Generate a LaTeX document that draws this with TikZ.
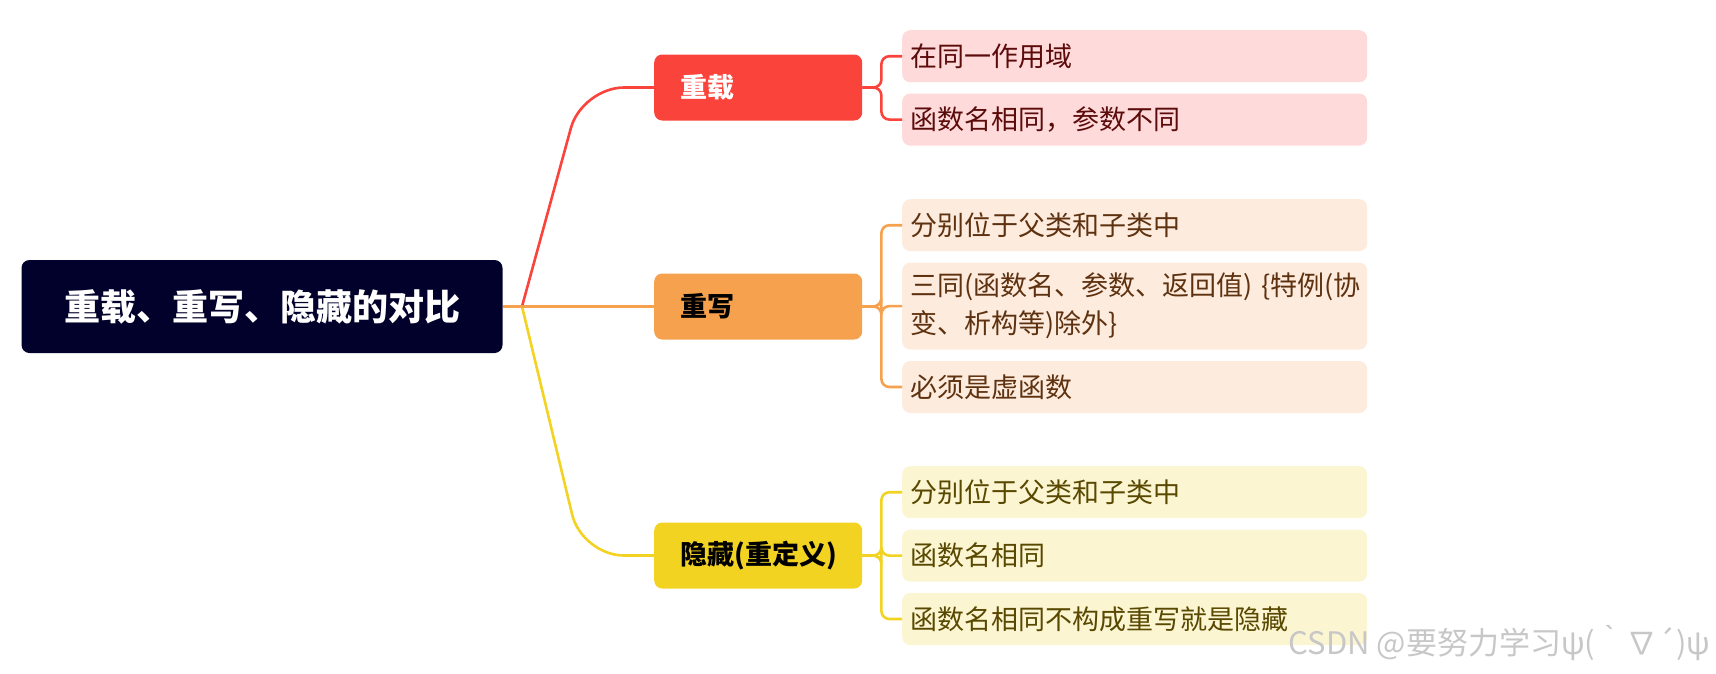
\documentclass[tikz,border=0pt]{standalone}
\usepackage{fontspec}
\setmainfont{Noto Sans CJK SC}
\usetikzlibrary{positioning}

\definecolor{rootbg}{HTML}{02012B}
\definecolor{redbr}{HTML}{FA433B}
\definecolor{orangebr}{HTML}{F6A14D}
\definecolor{yellowbr}{HTML}{F3D322}
\definecolor{redleaf}{HTML}{FFDADA}
\definecolor{orangeleaf}{HTML}{FDEBDD}
\definecolor{yellowleaf}{HTML}{FCF5D2}
\definecolor{redtxt}{HTML}{5C0B0B}
\definecolor{orangetxt}{HTML}{5E3210}
\definecolor{yellowtxt}{HTML}{584800}

\begin{document}
\begin{tikzpicture}[
  x=1pt,y=-1pt,
  node distance=11pt,
  root/.style={fill=rootbg,rounded corners=8pt,minimum width=481pt,minimum height=93pt,
    text=white,font=\fontsize{36}{42}\selectfont\bfseries},
  topic/.style={fill=#1br,rounded corners=8pt,minimum height=66pt,inner xsep=26pt,
    text width=156pt,align=left,font=\fontsize{27}{32}\selectfont\bfseries},
  leaf/.style={fill=#1leaf,text=#1txt,rounded corners=8pt,minimum height=52pt,inner xsep=8pt,
    text width=449pt,align=left,font=\fontsize{27}{38}\selectfont},
  link/.style={line width=2.6pt,rounded corners=42pt},
  brace/.style={line width=2.6pt,rounded corners=8pt}
]
  \useasboundingbox (0,0) rectangle (1716,673);

  \node[root] (root) at (262,306.5) {重载、重写、隐藏的对比};
  \coordinate (hub) at (522,306.5);

  % branches
  \node[topic=red,text=white,anchor=west] (ovl) at (654,87.5) {重载};
  \node[topic=orange,anchor=west] (ovr) at (654,306.5) {重写};
  \node[topic=yellow,anchor=west] (hid) at (654,555.5) {隐藏(重定义)};

  % leaves
  \node[leaf=red,anchor=north west] (ovl1) at (902,30) {在同一作用域};
  \node[leaf=red,below=of ovl1] (ovl2) {函数名相同，参数不同};

  \node[leaf=orange,anchor=north west] (ovr1) at (902,199) {分别位于父类和子类中};
  \node[leaf=orange,below=of ovr1,minimum height=87pt] (ovr2) {\mbox{三同(函数名、参数、返回值) \{特例(协}\\变、析构等)除外\}};
  \node[leaf=orange,below=of ovr2] (ovr3) {必须是虚函数};

  \node[leaf=yellow,anchor=north west] (hid1) at (902,466) {分别位于父类和子类中};
  \node[leaf=yellow,below=of hid1] (hid2) {函数名相同};
  \node[leaf=yellow,below=of hid2] (hid3) {函数名相同不构成重写就是隐藏};

  % root to branches
  \draw[link,yellowbr] (hub) -- ([xshift=-72pt]hid.west) -- (hid.west);
  \draw[link,redbr] (hub) -- ([xshift=-72pt]ovl.west) -- (ovl.west);
  \draw[link,orangebr] (root.east) -- (ovr.west);

  % branches to leaves
  \foreach \leafname in {ovl1,ovl2}
    \draw[brace,redbr] (ovl.east) -- ++(19,0) |- (\leafname.west);
  \foreach \leafname in {ovr1,ovr2,ovr3}
    \draw[brace,orangebr] (ovr.east) -- ++(19,0) |- (\leafname.west);
  \foreach \leafname in {hid1,hid2,hid3}
    \draw[brace,yellowbr] (hid.east) -- ++(19,0) |- (\leafname.west);

  \node[anchor=south east,text=black!22,font=\fontsize{31}{36}\selectfont] (mark) at (1714,664) {CSDN @要努力学习ψ(｀∇´)ψ};
\end{tikzpicture}
\end{document}
